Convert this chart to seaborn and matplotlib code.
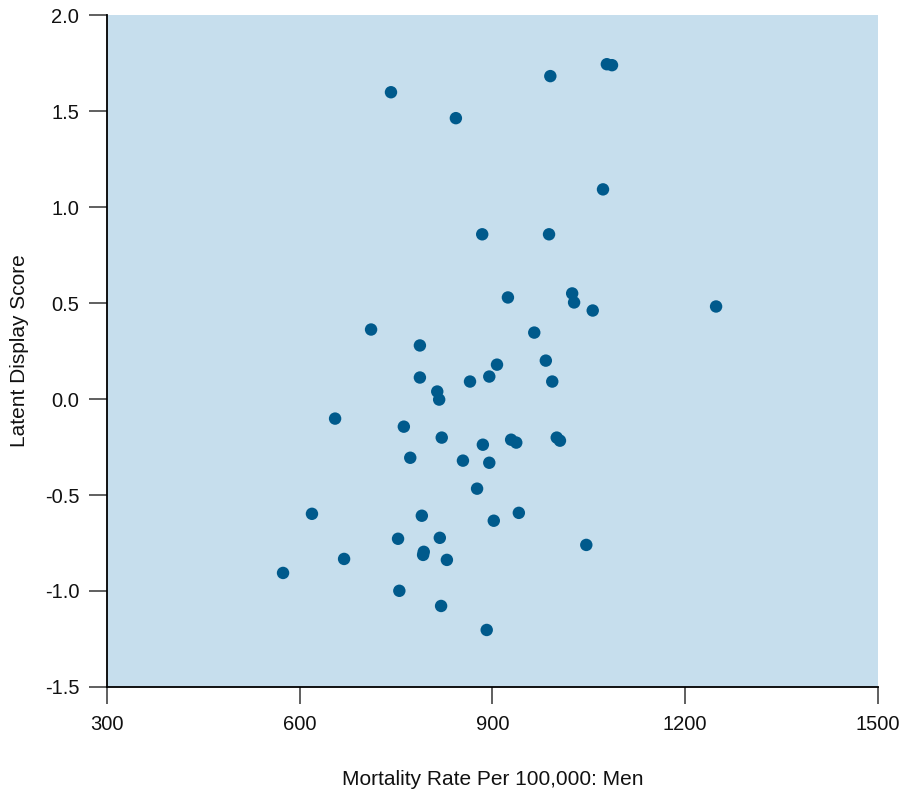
import matplotlib
matplotlib.use("Agg")
import matplotlib.pyplot as plt
import seaborn as sns
import pandas as pd

mortality = [742, 843, 990, 1078, 1086, 1072, 884, 988, 924, 1024, 1027, 1056, 1248,
             711, 965, 787, 983, 907, 787, 895, 865, 993, 814, 817, 655, 762, 821,
             1000, 1005, 885, 929, 937, 772, 854, 895, 876, 619, 790, 941, 902, 753,
             818, 1046, 793, 792, 669, 829, 574, 755, 820, 891]
latent = [1.598, 1.463, 1.682, 1.744, 1.739, 1.092, 0.858, 0.858, 0.529, 0.550, 0.503,
          0.461, 0.482, 0.362, 0.346, 0.279, 0.200, 0.179, 0.112, 0.117, 0.091, 0.091,
          0.039, -0.003, -0.102, -0.144, -0.201, -0.201, -0.217, -0.238, -0.212, -0.227,
          -0.306, -0.321, -0.332, -0.467, -0.598, -0.608, -0.593, -0.634, -0.728, -0.723,
          -0.760, -0.796, -0.812, -0.833, -0.838, -0.906, -0.999, -1.078, -1.203]

xticks = [300, 600, 900, 1200, 1500]
yticks = [-1.5, -1.0, -0.5, 0.0, 0.5, 1.0, 1.5, 2.0]
ytick_labels = ["-1.5", "-1.0", "-0.5", "0.0", "0.5", "1.0", "1.5", "2.0"]

df = pd.DataFrame({"x": mortality, "y": latent})

sns.set_style("ticks")
plt.rcParams["font.family"] = ["Liberation Sans", "DejaVu Sans"]

fig = plt.figure(figsize=(9.03, 7.93), dpi=100)
ax = fig.add_axes([0.1185, 0.1337, 0.8538, 0.8473])
ax.set_facecolor("#C6DEED")

sns.scatterplot(data=df, x="x", y="y", ax=ax, color="#005A8C", s=80,
                edgecolor="none", linewidth=0)

ax.set_xlim(300, 1500)
ax.set_ylim(-1.5, 2.0)
ax.set_xticks(xticks)
ax.set_xticklabels([str(t) for t in xticks])
ax.set_yticks(yticks)
ax.set_yticklabels(ytick_labels)

for s in ["top", "right"]:
    ax.spines[s].set_visible(False)
for s in ["left", "bottom"]:
    ax.spines[s].set_color("black")
    ax.spines[s].set_linewidth(1.3)

ax.tick_params(axis="y", length=13, width=1.2, color="#444444", pad=7, labelsize=14.5,
               labelcolor="#111111")
ax.tick_params(axis="x", length=12, width=1.2, color="#444444", pad=8, labelsize=14.5,
               labelcolor="#111111")

ax.set_xlabel("Mortality Rate Per 100,000: Men", fontsize=15, labelpad=26, color="#111111")
ax.set_ylabel("Latent Display Score", fontsize=15, color="#111111", va="center")
ax.yaxis.set_label_coords(-0.113, 0.5)

fig.savefig("out.png", dpi=100)
